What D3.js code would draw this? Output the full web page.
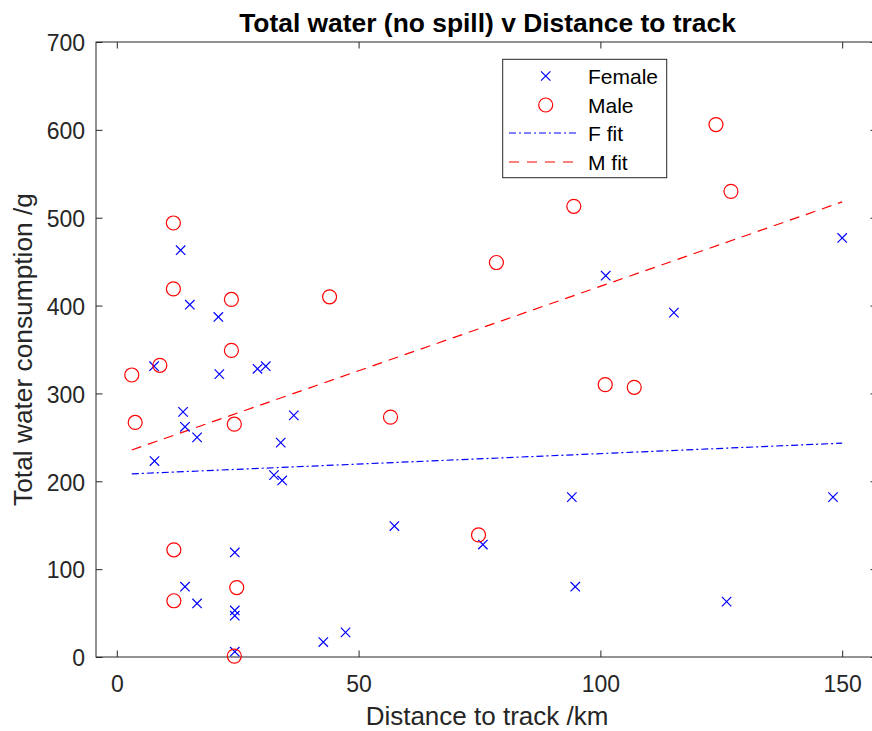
<!DOCTYPE html>
<html>
<head>
<meta charset="utf-8">
<script src="https://cdn.jsdelivr.net/npm/d3@7"></script>
<style>
  body { margin: 0; background: #fff; }
  svg { display: block; font-family: "Liberation Sans", Arial, sans-serif; }
</style>
</head>
<body>
<svg id="chart" width="872" height="731"></svg>
<script>
// ---- Data ----
const femaleDistance = [13.2, 15.1, 21.0, 7.7, 21.2, 29.1, 30.8, 13.7, 14.1, 16.6, 36.6, 33.9, 7.8, 32.5, 34.2, 57.4, 24.4, 14.1, 16.6, 24.4, 24.4, 47.3, 42.7, 24.4, 94.1, 148.1, 75.7, 94.8, 126.1, 101.1, 115.2, 150.0];
const femaleWater    = [463, 401, 387, 331, 322, 328, 331, 279, 262, 250, 275, 244, 223, 207, 201, 149, 119, 80, 61, 53, 47, 28, 17, 6, 182, 182, 128, 80, 63, 434, 392, 477];
const maleDistance = [11.7, 11.7, 23.7, 44.0, 23.7, 8.9, 3.1, 3.8, 24.3, 56.6, 11.8, 24.8, 11.8, 24.3, 78.5, 101.0, 107.0, 74.8, 94.5, 123.9, 127.0];
const maleWater    = [494, 419, 407, 410, 349, 332, 321, 267, 265, 273, 122, 79, 64, 1, 449, 310, 307, 139, 513, 606, 530];
// linear fits: [intercept, slope], drawn over the x range below
const femaleFit = [207.7, 0.238];
const maleFit   = [229.7, 1.922];
const fitRange  = [3.1, 150];
const xTicks = [0, 50, 100, 150];
const yTicks = [0, 100, 200, 300, 400, 500, 600, 700];
const legendLabels = ["Female", "Male", "F fit", "M fit"];
const titleText = "Total water (no spill) v Distance to track";
const xLabelText = "Distance to track /km";
const yLabelText = "Total water consumption /g";

// ---- Layout ----
const L = 96, R = 877, T = 42, B = 657;
const axisColor = "#262626";
const svg = d3.select("#chart");

const x = d3.scaleLinear().domain([-4.3, 157.2]).range([L, R]);
const y = d3.scaleLinear().domain([0, 700]).range([B, T]);

// axes
const tick = 6.5;
const gx = svg.append("g").attr("transform", `translate(0,${B})`)
  .call(d3.axisBottom(x).tickValues(xTicks).tickSizeInner(-tick).tickSizeOuter(0).tickPadding(19).tickFormat(d3.format("d")));
const gy = svg.append("g").attr("transform", `translate(${L},0)`)
  .call(d3.axisLeft(y).tickValues(yTicks).tickSizeInner(-tick).tickSizeOuter(0).tickPadding(11).tickFormat(d3.format("d")));
const gt = svg.append("g").attr("transform", `translate(0,${T})`)
  .call(d3.axisTop(x).tickValues(xTicks).tickSizeInner(-tick).tickSizeOuter(0).tickFormat(""));
const gr = svg.append("g").attr("transform", `translate(${R},0)`)
  .call(d3.axisRight(y).tickValues(yTicks).tickSizeInner(-tick).tickSizeOuter(0).tickFormat(""));
[gx, gy, gt, gr].forEach(g => {
  g.select(".domain").remove();
  g.selectAll("line").attr("stroke", axisColor).attr("stroke-width", 1);
  g.selectAll("text").attr("fill", axisColor).attr("font-size", 23).attr("font-family", "Liberation Sans, Arial, sans-serif");
});
gy.selectAll("text").attr("dy", "0.38em");

// box
svg.append("rect").attr("x", L).attr("y", T).attr("width", R - L).attr("height", B - T)
  .attr("fill", "none").attr("stroke", axisColor).attr("stroke-width", 1);

// fit lines
const line = d3.line().x(d => x(d[0])).y(d => y(d[1]));
function fitPts(f) { return fitRange.map(v => [v, f[0] + f[1] * v]); }
svg.append("path").attr("d", line(fitPts(femaleFit))).attr("fill", "none")
  .attr("stroke", "#0000ff").attr("stroke-width", 1.2).attr("stroke-dasharray", "7,3,2,3");
svg.append("path").attr("d", line(fitPts(maleFit))).attr("fill", "none")
  .attr("stroke", "#ff0000").attr("stroke-width", 1.2).attr("stroke-dasharray", "10,7");

// markers
const xs = 4.7;
function cross(g, cx, cy) {
  g.append("path").attr("d", `M${cx - xs},${cy - xs}L${cx + xs},${cy + xs}M${cx - xs},${cy + xs}L${cx + xs},${cy - xs}`)
    .attr("stroke", "#0000ff").attr("stroke-width", 1.2).attr("fill", "none");
}
function circ(g, cx, cy) {
  g.append("circle").attr("cx", cx).attr("cy", cy).attr("r", 7)
    .attr("stroke", "#ff0000").attr("stroke-width", 1.2).attr("fill", "none");
}
const gm = svg.append("g");
femaleDistance.forEach((d, i) => cross(gm, x(d), y(femaleWater[i])));
maleDistance.forEach((d, i) => circ(gm, x(d), y(maleWater[i])));

// legend
const lg = svg.append("g");
lg.append("rect").attr("x", 502.7).attr("y", 59.3).attr("width", 164).attr("height", 118.4)
  .attr("fill", "#fff").attr("stroke", axisColor).attr("stroke-width", 1);
const rowY = [76, 105, 133, 162];
cross(lg, 545.7, rowY[0]);
circ(lg, 545.7, rowY[1]);
lg.append("line").attr("x1", 509).attr("x2", 579).attr("y1", rowY[2]).attr("y2", rowY[2])
  .attr("stroke", "#0000ff").attr("stroke-width", 1.2).attr("stroke-dasharray", "7,3,2,3");
lg.append("line").attr("x1", 509).attr("x2", 579).attr("y1", rowY[3]).attr("y2", rowY[3])
  .attr("stroke", "#ff0000").attr("stroke-width", 1.2).attr("stroke-dasharray", "10,8");
legendLabels.forEach((t, i) => {
  lg.append("text").attr("x", 588).attr("y", rowY[i] + 7.8).attr("font-size", 21)
    .attr("fill", "#000").text(t);
});

// title and labels
svg.append("text").attr("x", 487.5).attr("y", 31.5).attr("text-anchor", "middle")
  .attr("font-size", 26.4).attr("font-weight", "bold").attr("fill", "#000").text(titleText);
svg.append("text").attr("x", 487).attr("y", 724.5).attr("text-anchor", "middle")
  .attr("font-size", 26).attr("fill", axisColor).text(xLabelText);
svg.append("text").attr("transform", `translate(31.5,${(T + B) / 2}) rotate(-90)`).attr("text-anchor", "middle")
  .attr("font-size", 26.3).attr("fill", axisColor).text(yLabelText);
</script>
</body>
</html>
